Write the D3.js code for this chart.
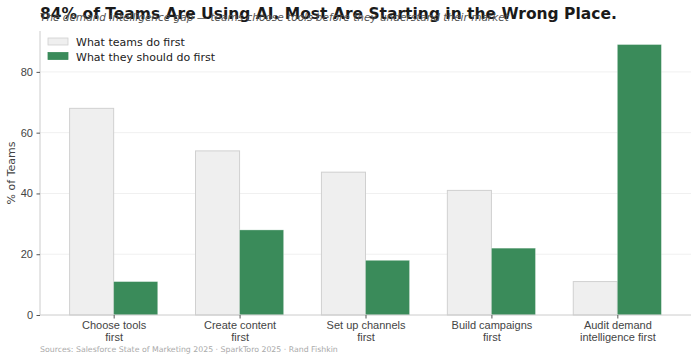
<!DOCTYPE html>
<html>
<head>
<meta charset="utf-8">
<script src="https://cdn.jsdelivr.net/npm/d3@7"></script>
<style>
	body { margin: 0; background: #fff; }
	svg { display: block; font-family: 'DejaVu Sans', sans-serif; }
	.grid line { stroke: #f0f0f0; stroke-width: 1; }
	.axis path { stroke: #cccccc; }
	.axis line { stroke: #555; }
	.axis text { fill: #444; font-size: 11px; }
</style>
</head>
<body>
<div id="chart"></div>
<script>
// data
const categories = [
	['Choose tools', 'first'],
	['Create content', 'first'],
	['Set up channels', 'first'],
	['Build campaigns', 'first'],
	['Audit demand', 'intelligence first']
];
const teamsDoFirst = [68, 54, 47, 41, 11];
const shouldDoFirst = [11, 28, 18, 22, 89];
const yTicks = [0, 20, 40, 60, 80];
const seriesNames = ['What teams do first', 'What they should do first'];

const W = 700;
const H = 361;
const MARGIN = { top: 31, right: 9, bottom: 46, left: 40 };
const BAR = 0.35;

const $svg = d3.select('#chart').append('svg').attr('width', W).attr('height', H);

const innerW = W - MARGIN.left - MARGIN.right;
const innerH = H - MARGIN.top - MARGIN.bottom;

// matplotlib-like linear x: index space with 5% margins
const n = categories.length;
const xLo = -BAR, xHi = n - 1 + BAR;
const pad = (xHi - xLo) * 0.05;
const x = d3.scaleLinear().domain([xLo - pad, xHi + pad]).range([0, innerW]);
const yMax = d3.max(teamsDoFirst.concat(shouldDoFirst)) * 1.05;
const y = d3.scaleLinear().domain([0, yMax]).range([innerH, 0]);

const $g = $svg.append('g').attr('transform', `translate(${MARGIN.left},${MARGIN.top})`);

// grid
$g.append('g').attr('class', 'grid')
	.selectAll('line').data(yTicks.slice(1)).join('line')
	.attr('x1', 0).attr('x2', innerW)
	.attr('y1', d => y(d)).attr('y2', d => y(d));

// bars
const bw = x(BAR) - x(0);
$g.append('g').selectAll('rect').data(teamsDoFirst).join('rect')
	.attr('x', (d, i) => x(i - BAR))
	.attr('y', d => y(d))
	.attr('width', bw)
	.attr('height', d => innerH - y(d))
	.attr('fill', '#efefef')
	.attr('stroke', '#d0d0d0')
	.attr('stroke-width', 1);

$g.append('g').selectAll('rect').data(shouldDoFirst).join('rect')
	.attr('x', (d, i) => x(i))
	.attr('y', d => y(d))
	.attr('width', bw)
	.attr('height', d => innerH - y(d))
	.attr('fill', '#3a8b5a')
	.attr('stroke', '#ffffff')
	.attr('stroke-opacity', 0.4)
	.attr('stroke-width', 0.8);

// axes
const $ya = $g.append('g').attr('class', 'axis')
	.call(d3.axisLeft(y).tickValues(yTicks).tickSize(3.5).tickPadding(3.5));
$ya.select('.domain').attr('d', `M0,${innerH}V0`);

const $xa = $g.append('g').attr('class', 'axis')
	.attr('transform', `translate(0,${innerH})`)
	.call(d3.axisBottom(x).tickValues(d3.range(n)).tickSize(3.5).tickFormat(''));
$xa.select('.domain').attr('d', `M0,0H${innerW}`);
$xa.selectAll('.tick').append('text')
	.attr('text-anchor', 'middle')
	.attr('fill', '#444')
	.selectAll('tspan').data(i => categories[i]).join('tspan')
	.attr('x', 0)
	.attr('y', (d, j) => 14 + j * 12)
	.text(d => d);

// y label
$svg.append('text')
	.attr('transform', `translate(15,${MARGIN.top + innerH / 2}) rotate(-90)`)
	.attr('text-anchor', 'middle')
	.attr('fill', '#444')
	.style('font-size', '11px')
	.text('% of Teams');

// legend
const $leg = $g.append('g').attr('transform', 'translate(8,8)');
const legColors = [['#efefef', '#d0d0d0'], ['#3a8b5a', '#3a8b5a']];
seriesNames.forEach((name, i) => {
	const $r = $leg.append('g').attr('transform', `translate(0,${i * 14.5})`);
	$r.append('rect').attr('width', 20).attr('height', 7).attr('y', -1)
		.attr('fill', legColors[i][0]).attr('stroke', legColors[i][1]).attr('stroke-width', 0.8);
	$r.append('text').attr('x', 28).attr('y', 7)
		.attr('fill', '#222').style('font-size', '11px').text(name);
});

// titles (overlap as in the original)
$svg.append('text')
	.attr('x', 40).attr('y', 19)
	.attr('fill', '#1a1a1a')
	.style('font-size', '15.5px').style('font-weight', 'bold')
	.text('84% of Teams Are Using AI. Most Are Starting in the Wrong Place.');
$svg.append('text')
	.attr('x', 40).attr('y', 21)
	.attr('fill', '#555')
	.style('font-size', '10.5px').style('font-style', 'italic')
	.text('The demand intelligence gap — teams choose tools before they understand their market');

// source
$svg.append('text')
	.attr('x', 40).attr('y', 352)
	.attr('fill', '#aaa')
	.style('font-size', '7.8px')
	.text('Sources: Salesforce State of Marketing 2025 · SparkToro 2025 · Rand Fishkin');
</script>
</body>
</html>
